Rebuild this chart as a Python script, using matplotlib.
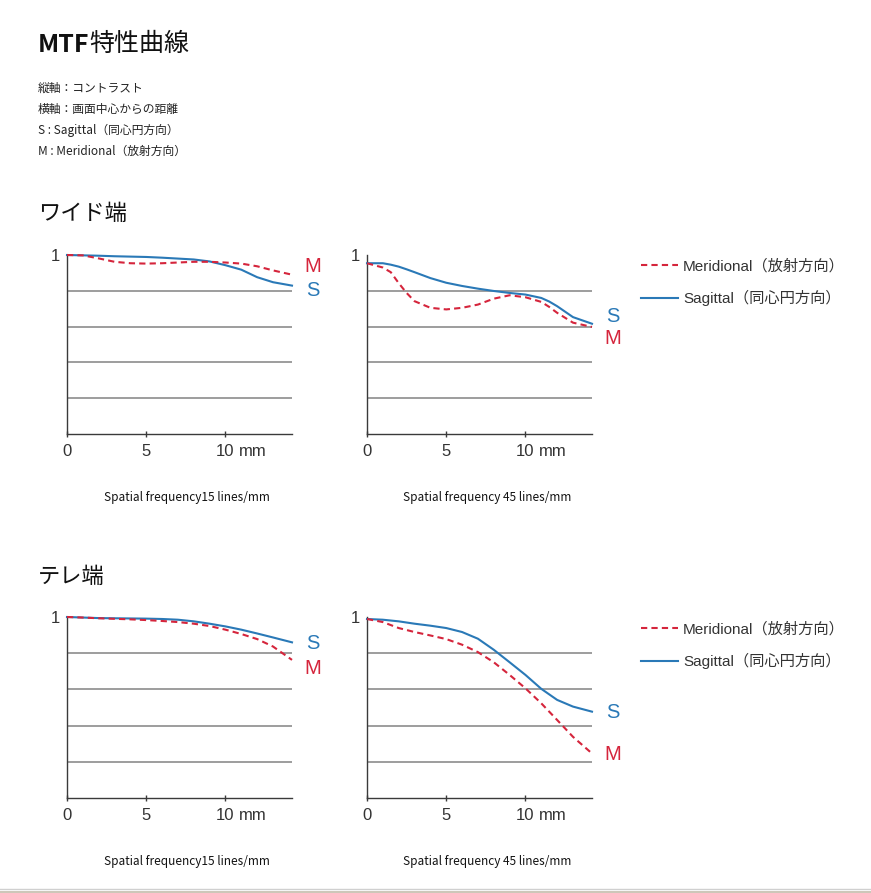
import matplotlib
matplotlib.use('Agg')
import matplotlib.pyplot as plt
from matplotlib.lines import Line2D

plt.rcParams['font.family'] = ['Liberation Sans', 'Noto Sans CJK JP']

# image height (mm) and contrast values
x_mm = [0, 1, 2, 3, 4, 5, 6, 7, 8, 9, 10, 11, 12, 13, 14.2]

# ワイド端 15 lines/mm
wide15_S = [1.0, 0.998, 0.996, 0.993, 0.991, 0.989, 0.985, 0.980, 0.975, 0.964, 0.943, 0.918, 0.876, 0.848, 0.829]
wide15_M = [1.0, 0.998, 0.981, 0.962, 0.954, 0.952, 0.954, 0.958, 0.962, 0.962, 0.958, 0.952, 0.937, 0.914, 0.890]

# ワイド端 45 lines/mm
wide45_x = [0, 1, 1.5, 2, 2.5, 3, 4, 5, 6, 7, 8, 9, 10, 11, 11.5, 12, 13, 14.2]
wide45_S = [0.954, 0.954, 0.946, 0.935, 0.920, 0.904, 0.871, 0.845, 0.827, 0.812, 0.799, 0.788, 0.779, 0.760, 0.740, 0.714, 0.653, 0.616]
wide45_M = [0.954, 0.930, 0.904, 0.843, 0.788, 0.742, 0.705, 0.696, 0.705, 0.723, 0.756, 0.775, 0.764, 0.738, 0.710, 0.677, 0.622, 0.598]

# テレ端 15 lines/mm
tele15_S = [1.0, 0.997, 0.994, 0.993, 0.992, 0.991, 0.989, 0.985, 0.976, 0.963, 0.948, 0.930, 0.909, 0.887, 0.860]
tele15_M = [1.0, 0.997, 0.993, 0.990, 0.987, 0.983, 0.978, 0.972, 0.963, 0.950, 0.930, 0.906, 0.878, 0.837, 0.763]

# テレ端 45 lines/mm
tele45_S = [0.989, 0.985, 0.976, 0.963, 0.952, 0.939, 0.917, 0.880, 0.819, 0.750, 0.680, 0.603, 0.542, 0.505, 0.477]
tele45_M = [0.989, 0.972, 0.939, 0.917, 0.898, 0.878, 0.847, 0.806, 0.750, 0.680, 0.606, 0.523, 0.431, 0.338, 0.246]

grid_vals = [0.2, 0.4, 0.6, 0.8]
x_ticks = [0, 5, 10]

BLUE = '#2a79b7'
RED = '#d5253c'
W, H = 871, 893

fig = plt.figure(figsize=(W / 100, H / 100), dpi=100)


def px_axes(x0, x1, y_top, y_bot):
    return fig.add_axes([x0 / W, 1 - y_bot / H, (x1 - x0) / W, (y_bot - y_top) / H])


def mtf_panel(ax, xs, s_vals, m_vals, s_pos, m_pos):
    for g in grid_vals:
        ax.axhline(g, color='#8c8c8c', lw=1.2, zorder=1)
    ax.plot(xs, s_vals, color=BLUE, lw=1.5, zorder=3, clip_on=False)
    ax.plot(xs, m_vals, color=RED, lw=1.5, ls=(0, (3, 2)), zorder=4, clip_on=False)
    ax.set_xlim(0, 14.2)
    ax.set_ylim(0, 1.0)
    for s in ['top', 'right']:
        ax.spines[s].set_visible(False)
    for s in ['left', 'bottom']:
        ax.spines[s].set_color('#3a3a3a')
        ax.spines[s].set_linewidth(1.0)
    ax.set_xticks(x_ticks)
    ax.set_xticklabels(['0', '5', '10'])
    ax.set_yticks([1])
    ax.set_yticklabels(['1'])
    ax.tick_params(axis='x', direction='inout', length=5, width=1, color='#3a3a3a',
                   pad=5, labelsize=12, labelcolor='#333333')
    ax.tick_params(axis='y', length=0, pad=5, labelsize=12, labelcolor='#333333')
    ax.annotate('mm', xy=(10, 0), xycoords='data', xytext=(10, -7.5),
                textcoords='offset points', ha='left', va='top', fontsize=12,
                color='#333333', annotation_clip=False)
    ax.text(s_pos[0], s_pos[1], 'S', color=BLUE, fontsize=14.5, ha='center', va='center', clip_on=False)
    ax.text(m_pos[0], m_pos[1], 'M', color=RED, fontsize=14.5, ha='center', va='center', clip_on=False)


# ワイド端
ax1 = px_axes(67, 292, 255, 434)
mtf_panel(ax1, x_mm, wide15_S, wide15_M, (15.5, 0.804), (15.5, 0.933))
ax2 = px_axes(367, 592, 255, 434)
mtf_panel(ax2, wide45_x, wide45_S, wide45_M, (15.5, 0.654), (15.5, 0.536))

# テレ端
ax3 = px_axes(67, 292, 617, 798)
mtf_panel(ax3, x_mm, tele15_S, tele15_M, (15.5, 0.856), (15.5, 0.718))
ax4 = px_axes(367, 592, 617, 798)
mtf_panel(ax4, x_mm, tele45_S, tele45_M, (15.5, 0.47), (15.5, 0.238))

# legends
handles = [Line2D([], [], color=RED, lw=1.5, ls=(0, (3, 2))),
           Line2D([], [], color=BLUE, lw=1.5)]
labels = ['Meridional（放射方向）', 'Sagittal（同心円方向）']
for top in [259, 622]:
    leg = fig.legend(handles, labels, loc='upper left', bbox_to_anchor=(641 / W, 1 - top / H),
                     frameon=False, fontsize=11, handlelength=2.45, handletextpad=0.3,
                     labelspacing=1.1, borderpad=0, borderaxespad=0)
    for t in leg.get_texts():
        t.set_color('#333333')

cjk = ['Noto Sans CJK JP', 'DejaVu Sans']

# title and description
t1 = fig.text(38 / W, 1 - 45 / H, 'MTF', fontsize=18, weight='bold', family=cjk,
              va='center', ha='left', color='#111111')
fig.add_artist(plt.Annotation('特性曲線', xy=(1, 0), xycoords=t1, xytext=(0, 0),
                              textcoords='offset points', fontsize=18, family=cjk,
                              color='#111111', ha='left', va='bottom'))

desc = ['縦軸：コントラスト', '横軸：画面中心からの距離',
        'S : Sagittal（同心円方向）', 'M : Meridional（放射方向）']
for i, line in enumerate(desc):
    fig.text(38 / W, 1 - (88 + 21 * i) / H, line, fontsize=8.5, family=cjk,
             va='center', ha='left', color='#222222')

fig.text(38 / W, 1 - 213 / H, 'ワイド端', fontsize=16, family=cjk, va='center', ha='left', color='#111111')
fig.text(38 / W, 1 - 576 / H, 'テレ端', fontsize=16, family=cjk, va='center', ha='left', color='#111111')

for y in [498, 862]:
    fig.text(187 / W, 1 - y / H, 'Spatial frequency15 lines/mm', fontsize=8.5, family=cjk,
             va='center', ha='center', color='#111111')
    fig.text(487 / W, 1 - y / H, 'Spatial frequency 45 lines/mm', fontsize=8.5, family=cjk,
             va='center', ha='center', color='#111111')

# page separator at the bottom
fig.add_artist(Line2D([0, 1], [1 - 888.5 / H] * 2, color='#d0d0d0', lw=1.0, transform=fig.transFigure))
fig.add_artist(Line2D([0, 1], [1 - 892 / H] * 2, color='#c4bcab', lw=1.2, transform=fig.transFigure))

fig.savefig('out.png', dpi=100, facecolor='white')
